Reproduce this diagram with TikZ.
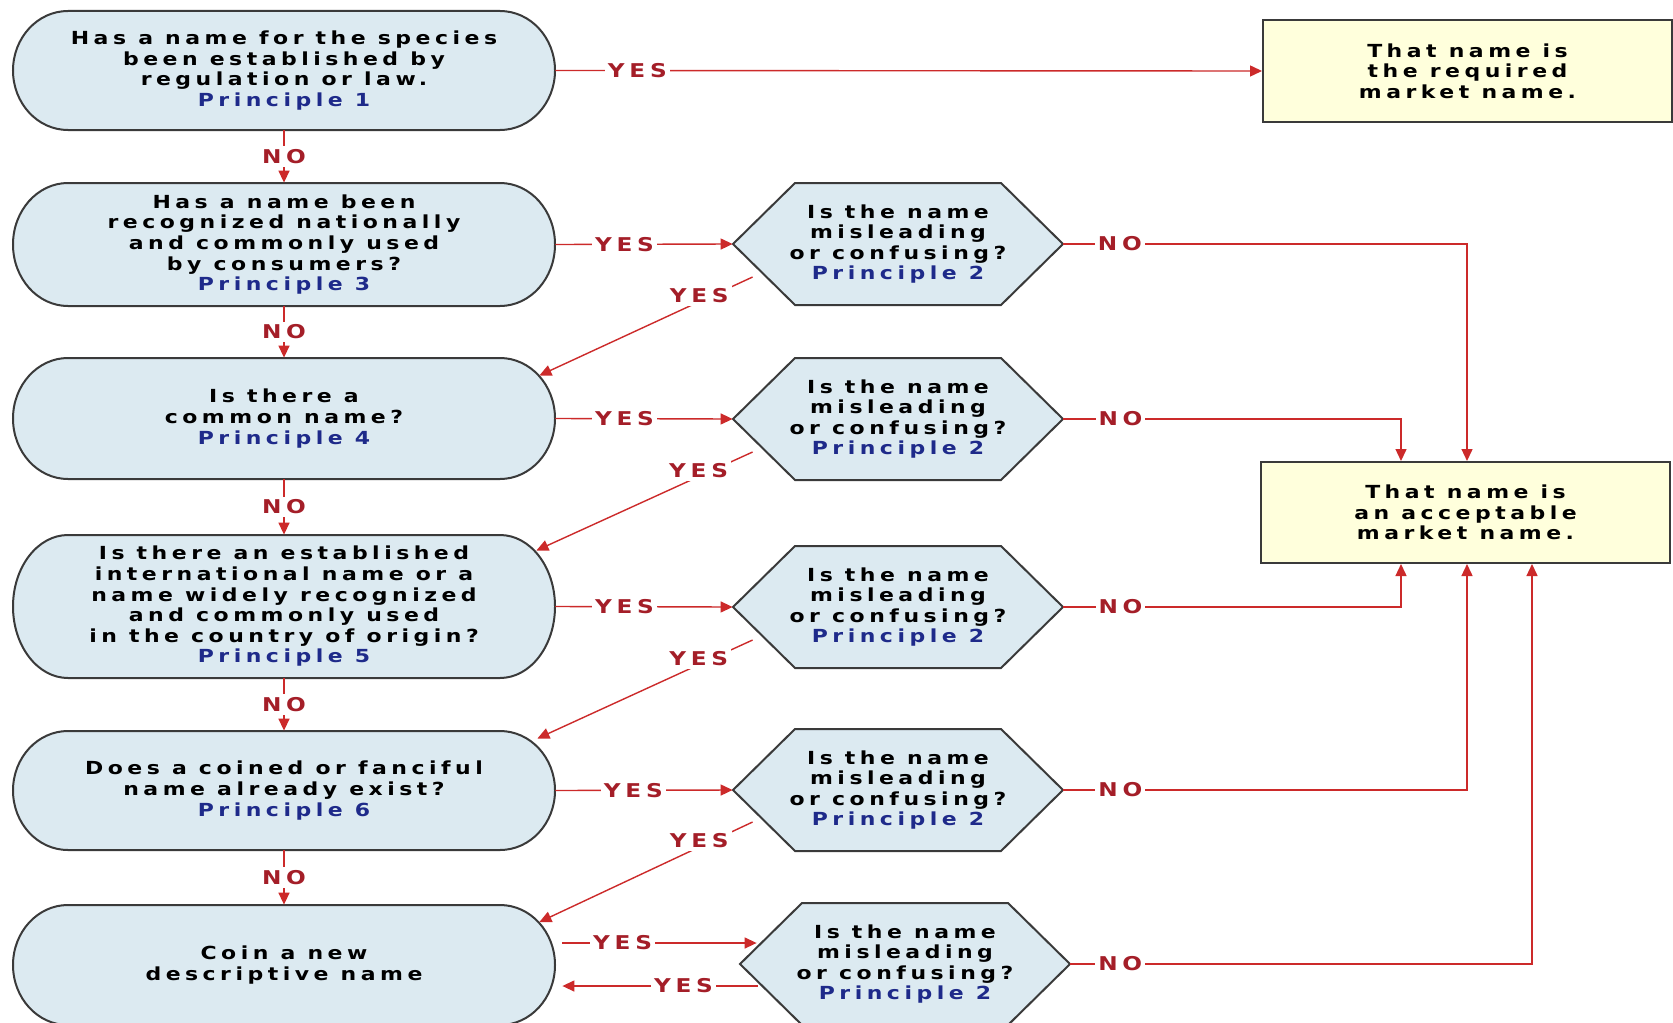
\documentclass[tikz,border=0pt]{standalone}
\usepackage{fontspec}
\setmainfont{DejaVu Sans}[FakeStretch=1.22,LetterSpace=25]
\usetikzlibrary{calc,arrows.meta}
\definecolor{fillblue}{HTML}{DCEAF1}
\definecolor{fillyel}{HTML}{FFFFDC}
\definecolor{edgegray}{HTML}{3A3A3A}
\definecolor{linered}{HTML}{CC2A2A}
\definecolor{lblred}{HTML}{A41E28}
\definecolor{princ}{HTML}{1E2A8A}
\newcommand\pr[1]{\textcolor{princ}{#1}}
\newcommand\stadshape[3]{\draw[stadsty] ({#1-216},{#2-#3}) -- ({#1+216},{#2-#3}) arc[start angle=90,end angle=-90,x radius=27.5pt,y radius={#3*0.5pt}] -- ({#1-216},{#2+#3}) arc[start angle=270,end angle=90,x radius=27.5pt,y radius={#3*0.5pt}] -- cycle;}
\newcommand\hexshape[2]{\draw[hexsty] ({#1-165},#2) -- ({#1-103},{#2-61}) -- ({#1+103},{#2-61}) -- ({#1+165},#2) -- ({#1+103},{#2+61}) -- ({#1-103},{#2+61}) -- cycle;}
\begin{document}
\begin{tikzpicture}[x=0.5pt,y=-0.5pt,
  font=\fontsize{9}{10.3}\selectfont\bfseries,
  stadsty/.style={draw=edgegray,line width=1pt,fill=fillblue},
  hexsty/.style={draw=edgegray,line width=1pt,fill=fillblue,line join=miter},
  txt/.style={align=center,inner sep=0pt,text=black},
  term/.style={txt,minimum width=271pt,minimum height=#1},
  hexn/.style={txt,minimum width=165pt,minimum height=61pt},
  boxsty/.style={draw=edgegray,line width=1pt,fill=fillyel,align=center,inner sep=0pt,minimum width=204.5pt,minimum height=#1},
  conn/.style={draw=linered,line width=0.7pt,-{Triangle[length=6pt,width=5.5pt]}},
  lbl/.style={fill=white,text=lblred,inner sep=1.5pt,font=\fontsize{9.5}{10}\selectfont\bfseries}]
\clip (0,0) rectangle (1673,1022);
\fill[white] (0,0) rectangle (1673,1022);

% terminals
\stadshape{284}{70.5}{59.5}
\node[term=59.5pt] (T1) at (284,70.5) {Has a name for the species\\been established by\\regulation or law.\\\pr{Principle 1}};
\stadshape{284}{244.5}{61.5}
\node[term=61.5pt] (T2) at (284,244.5) {Has a name been\\recognized nationally\\and commonly used\\by consumers?\\\pr{Principle 3}};
\stadshape{284}{418.5}{60.5}
\node[term=60.5pt] (T3) at (284,418.5) {Is there a\\common name?\\\pr{Principle 4}};
\stadshape{284}{606.5}{71.5}
\node[term=71.5pt] (T4) at (284,606.5) {Is there an established\\international name or a\\name widely recognized\\and commonly used\\in the country of origin?\\\pr{Principle 5}};
\stadshape{284}{790.5}{59.5}
\node[term=59.5pt] (T5) at (284,790.5) {Does a coined or fanciful\\name already exist?\\\pr{Principle 6}};
\stadshape{284}{965}{60}
\node[term=60pt] (T6) at (284,965) {Coin a new\\descriptive name};

% hexagons
\hexshape{898}{244}
\node[hexn] (H1) at (898,244) {Is the name\\misleading\\or confusing?\\\pr{Principle 2}};
\hexshape{898}{419}
\node[hexn] (H2) at (898,419) {Is the name\\misleading\\or confusing?\\\pr{Principle 2}};
\hexshape{898}{607}
\node[hexn] (H3) at (898,607) {Is the name\\misleading\\or confusing?\\\pr{Principle 2}};
\hexshape{898}{790}
\node[hexn] (H4) at (898,790) {Is the name\\misleading\\or confusing?\\\pr{Principle 2}};
\hexshape{905}{964}
\node[hexn] (H5) at (905,964) {Is the name\\misleading\\or confusing?\\\pr{Principle 2}};

% result boxes
\node[boxsty=51pt] (B1) at (1467.5,71) {That name is\\the required\\market name.};
\node[boxsty=50.5pt] (B2) at (1465.5,512.5) {That name is\\an acceptable\\market name.};

\coordinate (bt1) at ($(B2.north)+(-64.5,0)$);
\coordinate (bt2) at ($(B2.north)+(1.5,0)$);
\coordinate (bb1) at ($(B2.south)+(-64.5,0)$);
\coordinate (bb2) at ($(B2.south)+(1.5,0)$);
\coordinate (bb3) at ($(B2.south)+(66.5,0)$);

% NO down the left column
\draw[conn] (T1.south) -- node[lbl]{NO} (T2.north);
\draw[conn] (T2.south) -- node[lbl]{NO} (T3.north);
\draw[conn] (T3.south) -- node[lbl]{NO} (T4.north);
\draw[conn] (T4.south) -- node[lbl]{NO} (T5.north);
\draw[conn] (T5.south) -- node[lbl]{NO} (T6.north);

% YES to the right
\draw[conn] (T1.east) -- node[lbl,pos=0.116]{YES} (B1.west);
\draw[conn] (T2.east) -- node[lbl,pos=0.39]{YES} (H1.west);
\draw[conn] (T3.east) -- node[lbl,pos=0.39]{YES} (H2.west);
\draw[conn] (T4.east) -- node[lbl,pos=0.39]{YES} (H3.west);
\draw[conn] (T5.east) -- node[lbl,pos=0.44]{YES} (H4.west);
\draw[conn] ($(T6.east)+(7,-22)$) -- node[lbl,pos=0.31]{YES} ($(H5.west)+(17,-21)$);
\draw[conn] ($(H5.west)+(18,22)$) -- node[lbl,pos=0.38]{YES} ($(T6.east)+(7,21)$);

% YES diagonals back to the left column
\draw[conn] ($(H1.west)+(20,33)$) -- node[lbl,pos=0.25,yshift=3pt]{YES} ($(T3.east)+(-16,-43)$);
\draw[conn] ($(H2.west)+(20,33)$) -- node[lbl,pos=0.25,yshift=3pt]{YES} ($(T4.east)+(-19,-56)$);
\draw[conn] ($(H3.west)+(20,33)$) -- node[lbl,pos=0.25,yshift=3pt]{YES} ($(T5.east)+(-18,-52)$);
\draw[conn] ($(H4.west)+(20,32)$) -- node[lbl,pos=0.25,yshift=3pt]{YES} ($(T6.east)+(-16,-43)$);

% NO to acceptable
\draw[conn] (H1.east) -- node[lbl,pos=0.14]{NO} (H1.east -| bt2) -- (bt2);
\draw[conn] (H2.east) -- node[lbl,pos=0.169]{NO} (H2.east -| bt1) -- (bt1);
\draw[conn] (H3.east) -- node[lbl,pos=0.169]{NO} (H3.east -| bb1) -- (bb1);
\draw[conn] (H4.east) -- node[lbl,pos=0.141]{NO} (H4.east -| bb2) -- (bb2);
\draw[conn] (H5.east) -- node[lbl,pos=0.108]{NO} (H5.east -| bb3) -- (bb3);
\end{tikzpicture}
\end{document}
